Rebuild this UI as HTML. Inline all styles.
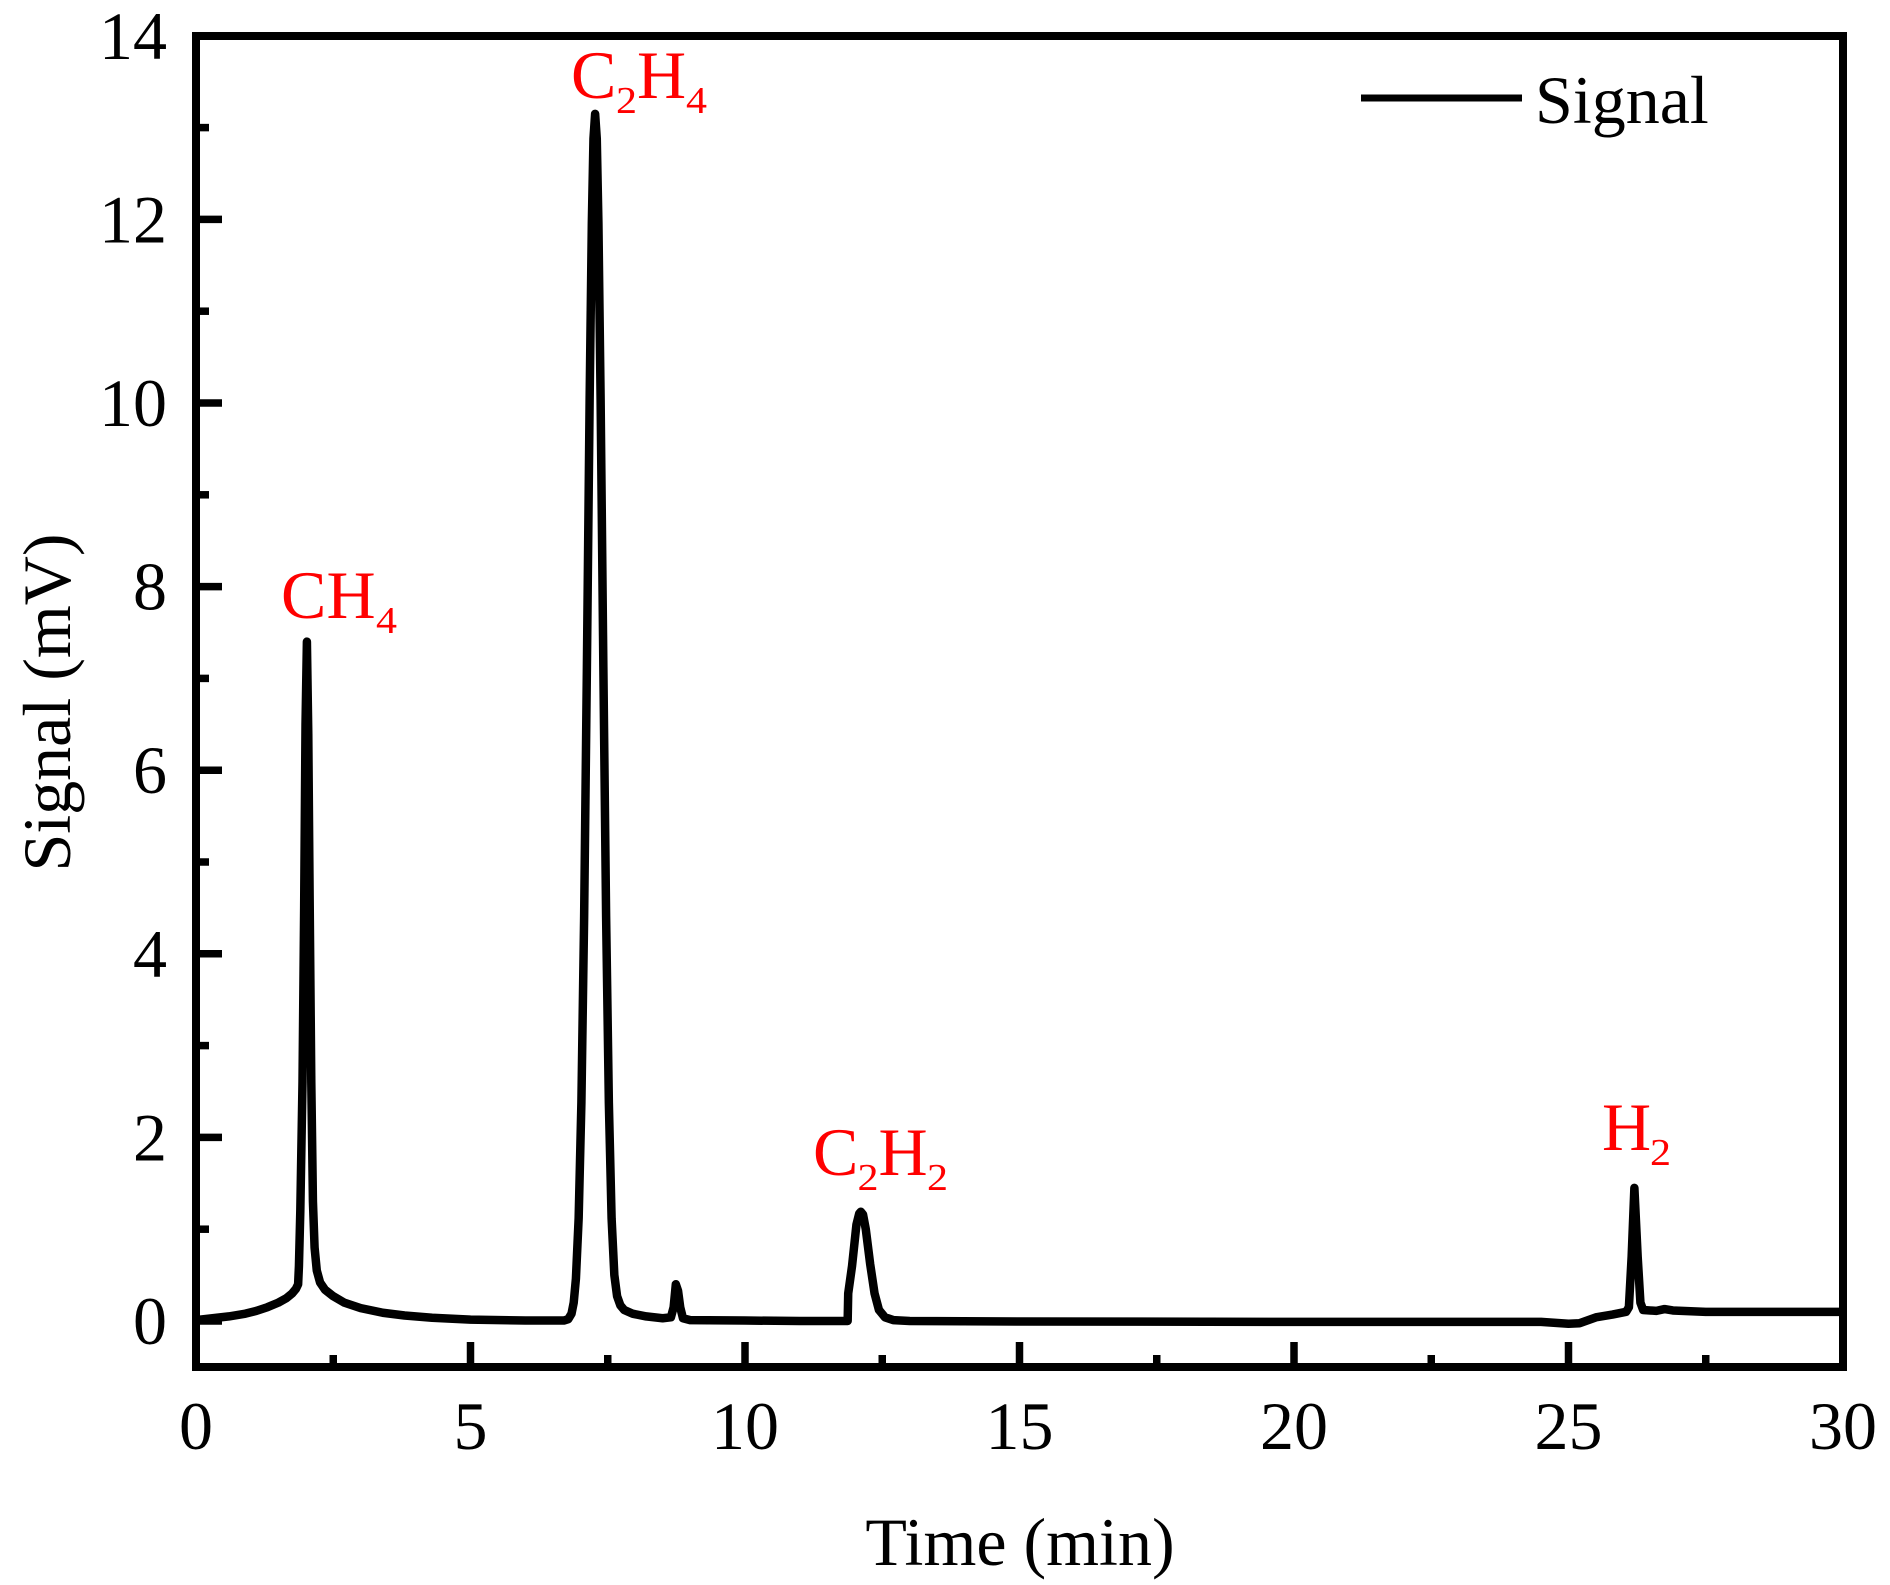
<!DOCTYPE html>
<html>
<head>
<meta charset="utf-8">
<style>
  html, body { margin: 0; padding: 0; background: #ffffff; }
  svg { display: block; }
  text { font-family: "Liberation Serif", "Times New Roman", serif; }
</style>
</head>
<body>
<svg width="1890" height="1585" viewBox="0 0 1890 1585" xmlns="http://www.w3.org/2000/svg">
  <rect x="0" y="0" width="1890" height="1585" fill="#ffffff"/>

  <!-- data series -->
  <g transform="translate(196,1321) scale(54.9,-91.8)">
    <path fill="none" stroke="#000" stroke-width="8.5" vector-effect="non-scaling-stroke" stroke-linejoin="round" stroke-linecap="butt"
      d="M0,0.01 L0.3,0.03 L0.6,0.05 L0.9,0.08 L1.1,0.11 L1.3,0.15 L1.5,0.2 L1.65,0.25 L1.75,0.3 L1.82,0.35 L1.86,0.4
         L1.875,0.6 L1.9,1.2 L1.94,2.6 L1.97,4.5 L1.995,6.5 L2.02,7.4 L2.045,6.4 L2.07,4.6 L2.1,2.6 L2.13,1.3 L2.16,0.8
         L2.2,0.55 L2.26,0.42 L2.35,0.34 L2.5,0.27 L2.7,0.2 L3.0,0.14 L3.4,0.09 L3.8,0.06 L4.3,0.035 L5.0,0.015 L6.0,0.005 L6.7,0.005
         L6.78,0.02 L6.84,0.08 L6.88,0.2 L6.92,0.46 L6.97,1.12 L7.02,2.38 L7.07,4.41 L7.12,7.12 L7.17,10.04 L7.21,11.96
         L7.24,12.88 L7.27,13.15 L7.30,12.88 L7.33,11.96 L7.37,10.04 L7.42,7.12 L7.47,4.41 L7.52,2.38 L7.57,1.12 L7.62,0.5
         L7.67,0.27 L7.73,0.17 L7.8,0.12 L7.95,0.08 L8.2,0.05 L8.5,0.03 L8.65,0.04 L8.7,0.15 L8.74,0.4 L8.78,0.33 L8.82,0.15
         L8.87,0.03 L9.0,0.01 L10,0.005 L11,0 L11.87,0 L11.88,0.3 L11.95,0.6 L12.03,1.05 L12.08,1.17 L12.11,1.19 L12.15,1.16 L12.2,1.0 L12.28,0.62
         L12.36,0.3 L12.44,0.12 L12.55,0.04 L12.7,0.01 L13,0 L15,-0.005 L20,-0.01 L24.5,-0.01 L25.0,-0.03 L25.2,-0.025 L25.5,0.04
         L25.8,0.07 L26.05,0.1 L26.1,0.15 L26.15,0.7 L26.2,1.45 L26.26,0.7 L26.31,0.2 L26.36,0.12 L26.6,0.11 L26.75,0.13
         L26.9,0.115 L27.5,0.1 L30,0.1"/>
  </g>

  <!-- axes frame -->
  <rect x="196" y="36" width="1647" height="1331" fill="none" stroke="#000" stroke-width="8"/>

  <!-- y ticks -->
  <g stroke="#000" stroke-width="7.5">
    <line x1="196" y1="1321" x2="222" y2="1321"/>
    <line x1="196" y1="1137.4" x2="222" y2="1137.4"/>
    <line x1="196" y1="953.8" x2="222" y2="953.8"/>
    <line x1="196" y1="770.2" x2="222" y2="770.2"/>
    <line x1="196" y1="586.6" x2="222" y2="586.6"/>
    <line x1="196" y1="403" x2="222" y2="403"/>
    <line x1="196" y1="219.4" x2="222" y2="219.4"/>
    <line x1="196" y1="1229.2" x2="209" y2="1229.2"/>
    <line x1="196" y1="1045.6" x2="209" y2="1045.6"/>
    <line x1="196" y1="862" x2="209" y2="862"/>
    <line x1="196" y1="678.4" x2="209" y2="678.4"/>
    <line x1="196" y1="494.8" x2="209" y2="494.8"/>
    <line x1="196" y1="311.2" x2="209" y2="311.2"/>
    <line x1="196" y1="127.6" x2="209" y2="127.6"/>
  </g>

  <!-- x ticks -->
  <g stroke="#000" stroke-width="7.5">
    <line x1="470.5" y1="1367" x2="470.5" y2="1342"/>
    <line x1="745" y1="1367" x2="745" y2="1342"/>
    <line x1="1019.5" y1="1367" x2="1019.5" y2="1342"/>
    <line x1="1294" y1="1367" x2="1294" y2="1342"/>
    <line x1="1568.5" y1="1367" x2="1568.5" y2="1342"/>
    <line x1="333.25" y1="1367" x2="333.25" y2="1355"/>
    <line x1="607.75" y1="1367" x2="607.75" y2="1355"/>
    <line x1="882.25" y1="1367" x2="882.25" y2="1355"/>
    <line x1="1156.75" y1="1367" x2="1156.75" y2="1355"/>
    <line x1="1431.25" y1="1367" x2="1431.25" y2="1355"/>
    <line x1="1705.75" y1="1367" x2="1705.75" y2="1355"/>
  </g>

  <!-- y tick labels -->
  <g font-size="68" fill="#000" text-anchor="end">
    <text x="167" y="1344">0</text>
    <text x="167" y="1160.4">2</text>
    <text x="167" y="976.8">4</text>
    <text x="167" y="793.2">6</text>
    <text x="167" y="609.6">8</text>
    <text x="167" y="426">10</text>
    <text x="167" y="242.4">12</text>
    <text x="167" y="58.8">14</text>
  </g>

  <!-- x tick labels -->
  <g font-size="68" fill="#000" text-anchor="middle">
    <text x="196" y="1449">0</text>
    <text x="470.5" y="1449">5</text>
    <text x="745" y="1449">10</text>
    <text x="1019.5" y="1449">15</text>
    <text x="1294" y="1449">20</text>
    <text x="1568.5" y="1449">25</text>
    <text x="1843" y="1449">30</text>
  </g>

  <!-- axis titles -->
  <text x="1020" y="1565" font-size="68" text-anchor="middle" fill="#000">Time (min)</text>
  <text transform="translate(70,702.5) rotate(-90)" font-size="68" text-anchor="middle" fill="#000">Signal (mV)</text>

  <!-- legend -->
  <line x1="1361" y1="98" x2="1522" y2="98" stroke="#000" stroke-width="7"/>
  <text x="1535" y="123" font-size="68" fill="#000">Signal</text>

  <!-- peak labels -->
  <g fill="#ff0000">
    <!-- CH4 -->
    <text x="281" y="618" font-size="68">C</text>
    <text x="326.5" y="618" font-size="68">H</text>
    <text x="376" y="633" font-size="38" textLength="21" lengthAdjust="spacingAndGlyphs">4</text>
    <!-- C2H4 -->
    <text x="571" y="98" font-size="68">C</text>
    <text x="616" y="113" font-size="38" textLength="21" lengthAdjust="spacingAndGlyphs">2</text>
    <text x="637" y="98" font-size="68">H</text>
    <text x="686" y="113" font-size="38" textLength="21" lengthAdjust="spacingAndGlyphs">4</text>
    <!-- C2H2 -->
    <text x="813" y="1175" font-size="68">C</text>
    <text x="857.5" y="1190" font-size="38" textLength="21" lengthAdjust="spacingAndGlyphs">2</text>
    <text x="878.5" y="1175" font-size="68">H</text>
    <text x="927" y="1190" font-size="38" textLength="21" lengthAdjust="spacingAndGlyphs">2</text>
    <!-- H2 -->
    <text x="1602" y="1150" font-size="68">H</text>
    <text x="1650" y="1165" font-size="38" textLength="21" lengthAdjust="spacingAndGlyphs">2</text>
  </g>
</svg>
</body>
</html>
